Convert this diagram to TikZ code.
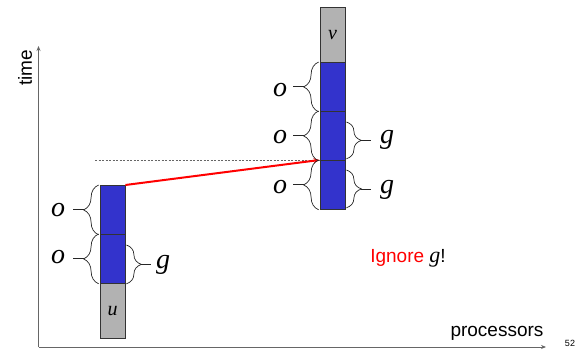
\documentclass[tikz,border=0pt]{standalone}
\usepackage{fontspec}
\setmainfont{Liberation Serif}
\setsansfont{Liberation Sans}
\usetikzlibrary{decorations.pathreplacing,arrows.meta}
\definecolor{barblue}{HTML}{3333CC}
\definecolor{bargray}{HTML}{B2B2B2}
\definecolor{axisgray}{HTML}{666666}
\begin{document}
\begin{tikzpicture}[x=1pt,y=-1pt,
  bar/.style={draw=black!80, line width=0.8pt, minimum width=25pt, inner sep=0pt, anchor=north},
  bluebox/.style={bar, fill=barblue, minimum height=49pt},
  graybox/.style={bar, fill=bargray, minimum height=55pt, font=\fontsize{20}{20}\selectfont\itshape},
  brc/.style={decorate, decoration={brace, amplitude=15pt}, line width=0.7pt, draw=black!85},
  tick/.style={line width=0.9pt, draw=black!85},
  lbl/.style={font=\fontsize{28}{28}\selectfont\itshape, inner sep=0pt},
  axis/.style={draw=axisgray, line width=0.9pt, -{Stealth[length=5pt,width=4pt]}},
  sans/.style={font=\sffamily\fontsize{19}{19}\selectfont, inner sep=0pt},
]
\useasboundingbox (0,0) rectangle (587,350);

% axes
\coordinate (O) at (38.5,347);
\coordinate (ytop) at (38.5,46);
\coordinate (xend) at (546,347);
\draw[axis] (O) -- (ytop);
\draw[axis] (O) -- (xend);
\node[sans, rotate=90] (time) at (25,68) {time};
\node[sans] (proc) at (497,333) {processors};
\node[font=\sffamily\fontsize{9}{9}\selectfont, inner sep=0pt] (pg) at (570,343) {52};

% sender bar
\node[bluebox] (lb1) at (112.5,185) {};
\node[bluebox] (lb2) at (112.5,234) {};
\node[graybox] (u) at (112.5,283) {u};

% receiver bar
\node[graybox] (v) at (332.5,7) {v};
\node[bluebox] (rb1) at (332.5,62) {};
\node[bluebox] (rb2) at (332.5,111) {};
\node[bluebox] (rb3) at (332.5,160) {};

% dashed time line and message
\coordinate (dstart) at (95,160);
\draw[axisgray, line width=0.5pt, dash pattern=on 2pt off 1.5pt] (dstart) -- (rb3.north west);
\draw[red, line width=2pt, -{Stealth[length=6pt,width=5pt]}] (lb1.north east) -- (rb3.north west);

% o braces, sender
\draw[brc] ([xshift=-1pt]lb1.south west) -- ([xshift=-1pt]lb1.north west);
\node[lbl] (o1) at (58,210) {o};
\draw[tick] ([xshift=-16pt]lb1.west) -- ([xshift=-27pt]lb1.west);
\draw[brc] ([xshift=-1pt]lb2.south west) -- ([xshift=-1pt]lb2.north west);
\node[lbl] (o2) at (58,257) {o};
\draw[tick] ([xshift=-16pt]lb2.west) -- ([xshift=-27pt]lb2.west);
% g brace, sender
\draw[brc] ([xshift=1pt,yshift=-11pt]lb2.north east) -- ([xshift=1pt]lb2.south east);
\node[lbl] (g1) at (163,265) {g};
\draw[tick] (141,264) -- (151,264);

% o braces, receiver
\draw[brc] ([xshift=-1pt]rb1.south west) -- ([xshift=-1pt]rb1.north west);
\node[lbl] (o3) at (280,90) {o};
\draw[tick] ([xshift=-16pt]rb1.west) -- ([xshift=-27pt]rb1.west);
\draw[brc] ([xshift=-1pt]rb2.south west) -- ([xshift=-1pt]rb2.north west);
\node[lbl] (o4) at (280,137) {o};
\draw[tick] ([xshift=-16pt]rb2.west) -- ([xshift=-27pt]rb2.west);
\draw[brc] ([xshift=-1pt]rb3.south west) -- ([xshift=-1pt]rb3.north west);
\node[lbl] (o5) at (280,187) {o};
\draw[tick] ([xshift=-16pt]rb3.west) -- ([xshift=-27pt]rb3.west);

% g braces, receiver
\draw[brc] ([xshift=1pt,yshift=-11pt]rb2.north east) -- ([xshift=1pt,yshift=2pt]rb2.south east);
\node[lbl] (g2) at (387,140) {g};
\draw[tick] (361,140) -- (371,140);
\draw[brc] ([xshift=1pt,yshift=-10pt]rb3.north east) -- ([xshift=1pt,yshift=2pt]rb3.south east);
\node[lbl] (g3) at (387,190) {g};
\draw[tick] (361,189) -- (371,189);

% remark
\node[inner sep=0pt, font=\sffamily\fontsize{19}{19}\selectfont] (ign) at (408,258)
  {{\color{red}Ignore} {\rmfamily\itshape\fontsize{22}{22}\selectfont g}!};
\end{tikzpicture}
\end{document}
